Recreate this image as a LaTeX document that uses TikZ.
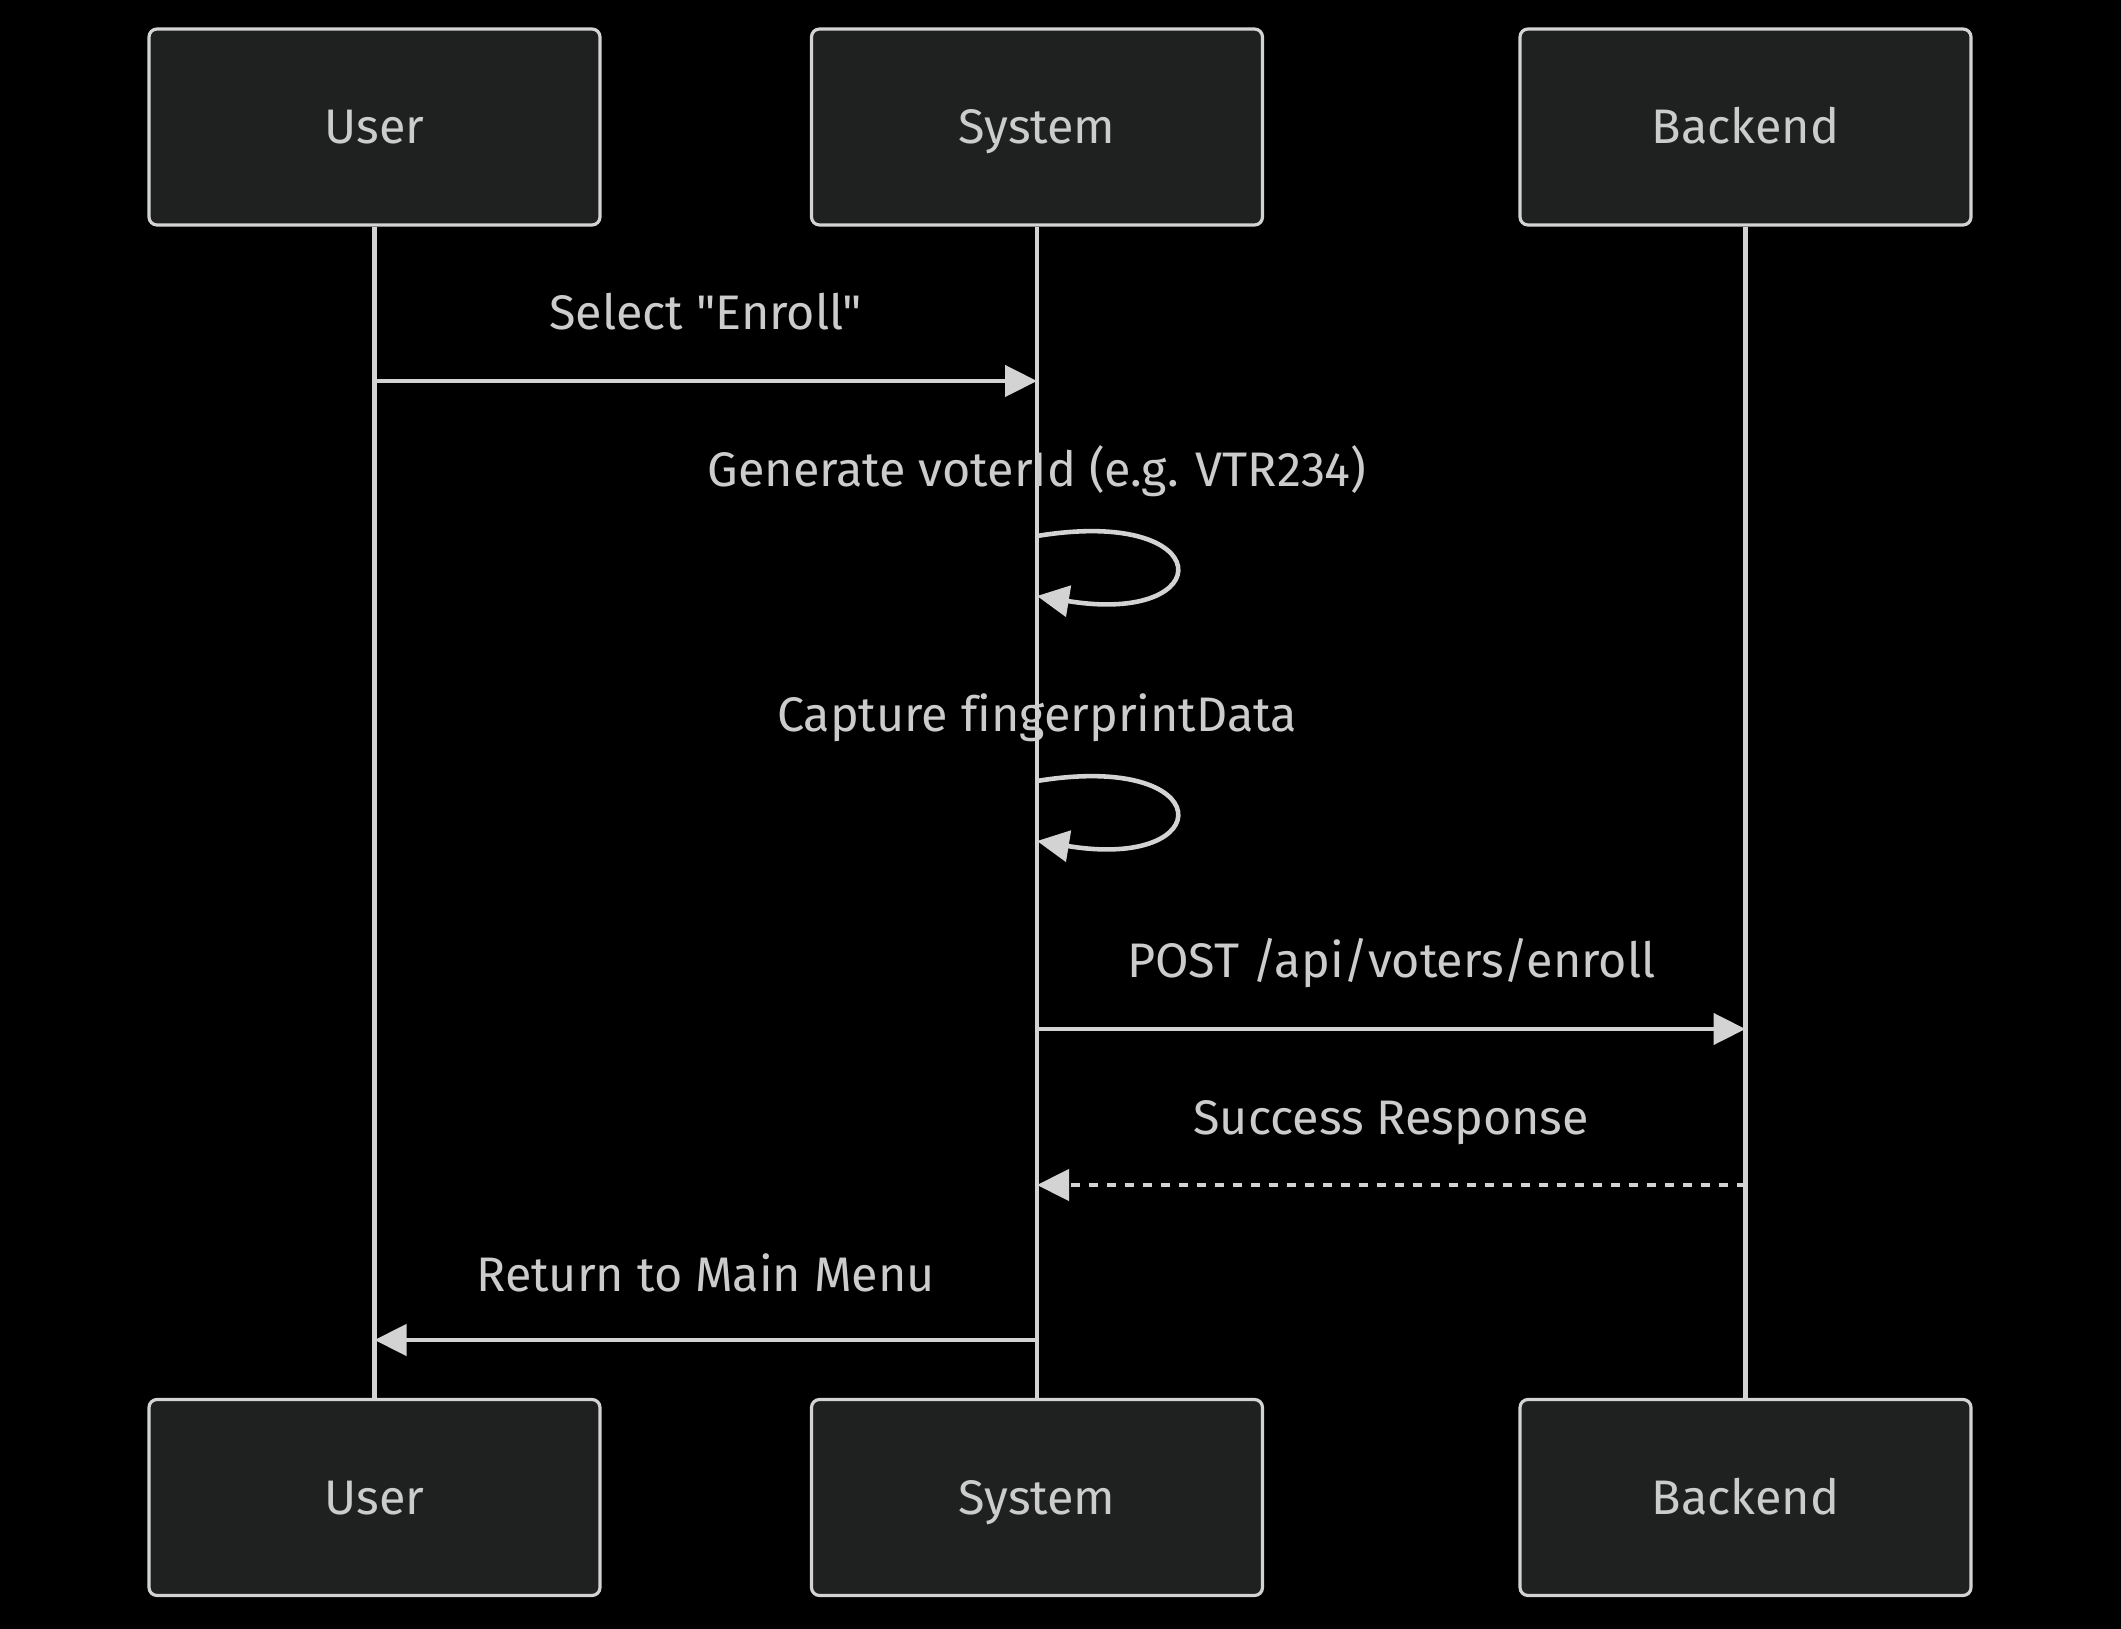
\documentclass[tikz,border=0pt]{standalone}
\usepackage{fontspec}
\setmainfont{Fira Sans}[Ligatures={TeXOff,CommonOff}]
\usepackage{tikz}
\usetikzlibrary{arrows.meta,positioning}
\definecolor{boxfill}{HTML}{1F2020}
\definecolor{linegray}{HTML}{D3D3D3}
\definecolor{textgray}{HTML}{CCCCCC}

\begin{document}
\begin{tikzpicture}
    \tikzset{actor/.style = {shape=rectangle, rounded corners=0.08cm, draw=linegray, fill=boxfill, line width=0.9pt, minimum width=4.51cm, minimum height=1.96cm, inner sep=0pt, text=textgray, font=\fontsize{13.8}{17}\selectfont, text height=0.34cm, text depth=0pt}}
    \tikzset{lifeline/.style = {draw=linegray, line width=1.4pt}}
    \tikzset{msg/.style = {-{Triangle[length=0.32cm, width=0.31cm]}, draw=linegray, line width=1.3pt}}
    \tikzset{msgdash/.style = {msg, dash pattern=on 0.09cm off 0.09cm}}
    \tikzset{msglabel/.style = {text=textgray, font=\fontsize{13.8}{17}\selectfont, anchor=base, inner sep=0pt}}

    \fill[black] (0,0) rectangle (21.21,-16.29);
    \useasboundingbox (0,0) rectangle (21.21,-16.29);

    % actors, top and bottom
    \node[actor] (U1) at (3.745, -1.27) {User};
    \node[actor] (S1) at (10.37, -1.27) {System};
    \node[actor] (B1) at (17.455, -1.27) {Backend};
    \node[actor] (U2) at (3.745, -14.975) {User};
    \node[actor] (S2) at (10.37, -14.975) {System};
    \node[actor] (B2) at (17.455, -14.975) {Backend};

    \draw[lifeline] (U1) -- (U2);
    \draw[lifeline] (S1) -- (S2);
    \draw[lifeline] (B1) -- (B2);

    % message end points
    \coordinate (m1s) at (U1 |- 0,-3.81);
    \coordinate (m1e) at (S1 |- 0,-3.81);
    \coordinate (l1s) at (S1 |- 0,-5.36);
    \coordinate (l1e) at (S1 |- 0,-5.96);
    \coordinate (l2s) at (S1 |- 0,-7.81);
    \coordinate (l2e) at (S1 |- 0,-8.41);
    \coordinate (m2s) at (S1 |- 0,-10.29);
    \coordinate (m2e) at (B1 |- 0,-10.29);
    \coordinate (m3s) at (B1 |- 0,-11.85);
    \coordinate (m3e) at (S1 |- 0,-11.85);
    \coordinate (m4s) at (S1 |- 0,-13.40);
    \coordinate (m4e) at (U1 |- 0,-13.40);

    \draw[msg] (m1s) -- node[msglabel, midway, yshift=0.51cm] {Select "Enroll"} (m1e);
    \node[msglabel, yshift=0.49cm] (t1) at (l1s) {Generate voterId (e.g. VTR234)};
    \draw[msg] (l1s) .. controls +(1.83,0.30) and +(1.83,-0.30) .. (l1e);
    \node[msglabel, yshift=0.49cm] (t2) at (l2s) {Capture fingerprintData};
    \draw[msg] (l2s) .. controls +(1.83,0.30) and +(1.83,-0.30) .. (l2e);
    \draw[msg] (m2s) -- node[msglabel, midway, yshift=0.51cm] {POST /api/voters/enroll} (m2e);
    \draw[msgdash] (m3s) -- node[msglabel, midway, yshift=0.50cm] {Success Response} (m3e);
    \draw[msg] (m4s) -- node[msglabel, midway, yshift=0.49cm] {Return to Main Menu} (m4e);

\end{tikzpicture}
\end{document}
